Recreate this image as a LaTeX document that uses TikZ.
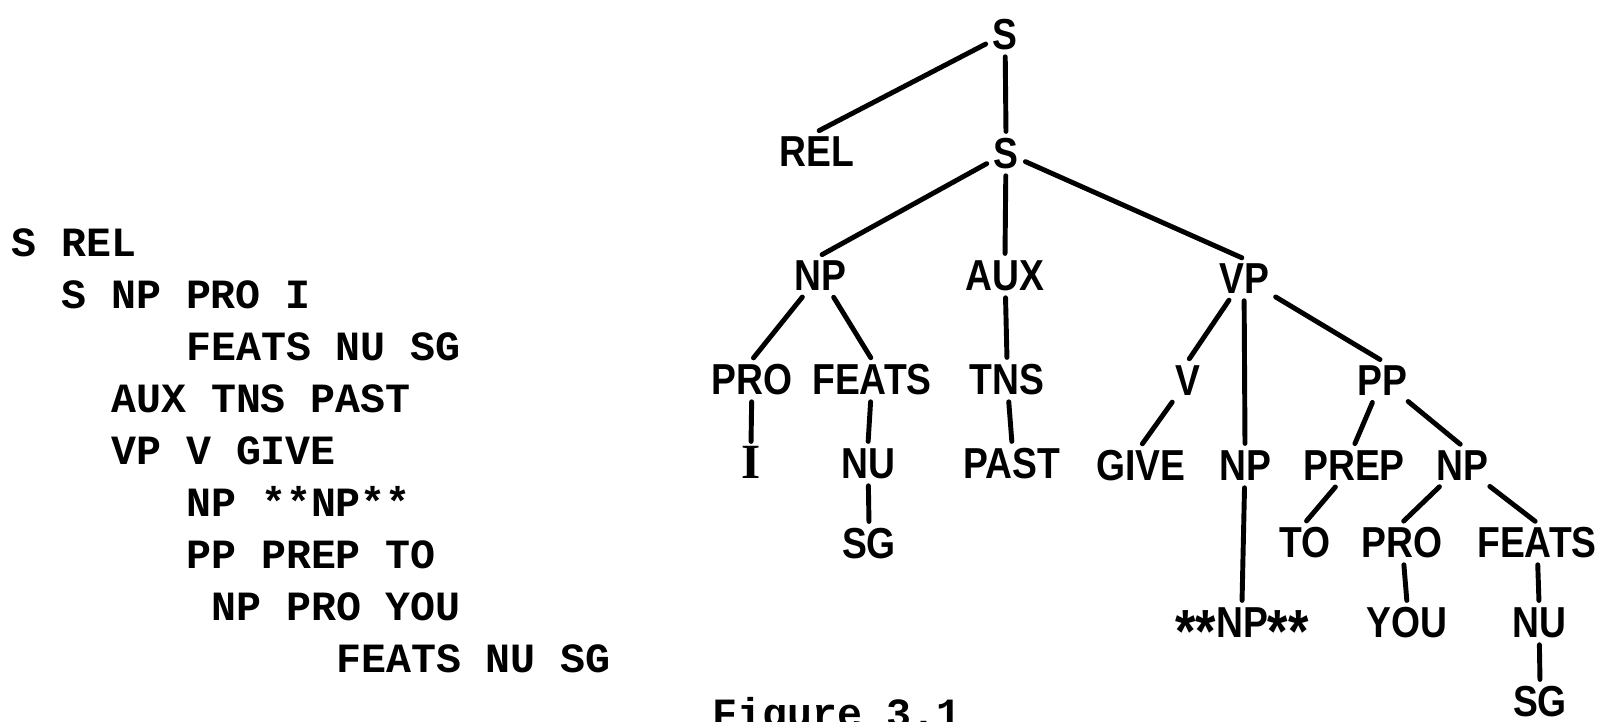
\documentclass[tikz,border=0pt]{standalone}
\usepackage{fontspec}
\newfontfamily\treefont{Liberation Sans}[FakeStretch=0.86]
\newfontfamily\serifI{Liberation Serif}
\newfontfamily\typefont{Liberation Mono}
% large, lowered asterisk used in the tree labels
\newcommand\bigast{\raisebox{-13pt}{\fontsize{52}{54}\selectfont*}}
\begin{document}
\begin{tikzpicture}[x=0.03cm,y=-0.03cm,
  lbl/.style={font=\treefont\bfseries\fontsize{37}{40}\selectfont, inner sep=3pt,
    text height=26.5pt, text depth=0pt},
  branch/.style={line width=4.2pt, line cap=round, shorten >=2pt, shorten <=3pt},
  tw/.style={font=\typefont\bfseries\fontsize{35.5}{40}\selectfont,
    anchor=base west, inner sep=0pt}]
\useasboundingbox (0,0) rectangle (1602,721);
\clip (0,0) rectangle (1602,721);

% bracketed listing of the parse
\node[tw] (l0) at (11,256) {S REL};
\node[tw] (l1) at (61,308) {S NP PRO I};
\node[tw] (l2) at (186,360) {FEATS NU SG};
\node[tw] (l3) at (111,412) {AUX TNS PAST};
\node[tw] (l4) at (111,464) {VP V GIVE};
\node[tw] (l5) at (186,516) {NP **NP**};
\node[tw] (l6) at (186,568) {PP PREP TO};
\node[tw] (l7) at (211,620) {NP PRO YOU};
\node[tw] (l8) at (336,672) {FEATS NU SG};

% caption
\node[tw] (cap) at (712,727) {Figure 3.1};

% tree labels
\node[lbl] (S1) at (1005,34) {S};
\node[lbl] (REL) at (817,151) {REL};
\node[lbl] (S2) at (1006,153) {S};
\node[lbl] (NP1) at (820,275) {NP};
\node[lbl] (AUX) at (1005,275) {AUX};
\node[lbl] (VP) at (1244,278) {VP};
\node[lbl] (PRO1) at (752,379) {PRO};
\node[lbl] (FEATS1) at (872,379) {FEATS};
\node[lbl] (TNS) at (1007,379) {TNS};
\node[lbl] (V) at (1188,380) {V};
\node[lbl] (PP) at (1382,380) {PP};
\node[lbl, font=\serifI\bfseries\fontsize{42}{44}\selectfont] (I) at (751,463) {I};
\node[lbl] (NU1) at (868,463) {NU};
\node[lbl] (PAST) at (1012,463) {PAST};
\node[lbl] (GIVE) at (1141,465) {GIVE};
\node[lbl] (NP2) at (1245,465) {NP};
\node[lbl] (PREP) at (1354,465) {PREP};
\node[lbl] (NP3) at (1462,465) {NP};
\node[lbl] (SG1) at (869,543) {SG};
\node[lbl] (TO) at (1305,542) {TO};
\node[lbl] (PRO2) at (1402,542) {PRO};
\node[lbl] (FEATS2) at (1537,542) {FEATS};
\node[lbl] (TRACE) at (1242,622) {\bigast\bigast NP\bigast\bigast};
\node[lbl] (YOU) at (1407,622) {YOU};
\node[lbl] (NU2) at (1539,622) {NU};
\node[lbl] (SG2) at (1540,701) {SG};

% branches
\draw[branch] (S1) -- (REL.north);
\draw[branch] (S1) -- (S2.north);
\draw[branch] (S2) -- (NP1.north);
\draw[branch] (S2) -- (AUX.north);
\draw[branch] (S2) -- (VP.north);
\draw[branch] (NP1) -- (PRO1.north);
\draw[branch] (NP1) -- (FEATS1.north);
\draw[branch] (AUX) -- (TNS.north);
\draw[branch] (PRO1) -- (I.north);
\draw[branch] (FEATS1) -- (NU1.north);
\draw[branch] (NU1) -- (SG1.north);
\draw[branch] (TNS) -- (PAST.north);
\draw[branch] (VP) -- (V.north);
\draw[branch] (VP) -- (NP2.north);
\draw[branch] (VP) -- (PP.north);
\draw[branch] (V) -- (GIVE.north);
\draw[branch] (NP2) -- (TRACE.north);
\draw[branch] (PP) -- (PREP.north);
\draw[branch] (PP) -- (NP3.north);
\draw[branch] (PREP) -- (TO.north);
\draw[branch] (NP3) -- (PRO2.north);
\draw[branch] (NP3) -- (FEATS2.north);
\draw[branch] (PRO2) -- (YOU.north);
\draw[branch] (FEATS2) -- (NU2.north);
\draw[branch] (NU2) -- (SG2.north);
\end{tikzpicture}
\end{document}
